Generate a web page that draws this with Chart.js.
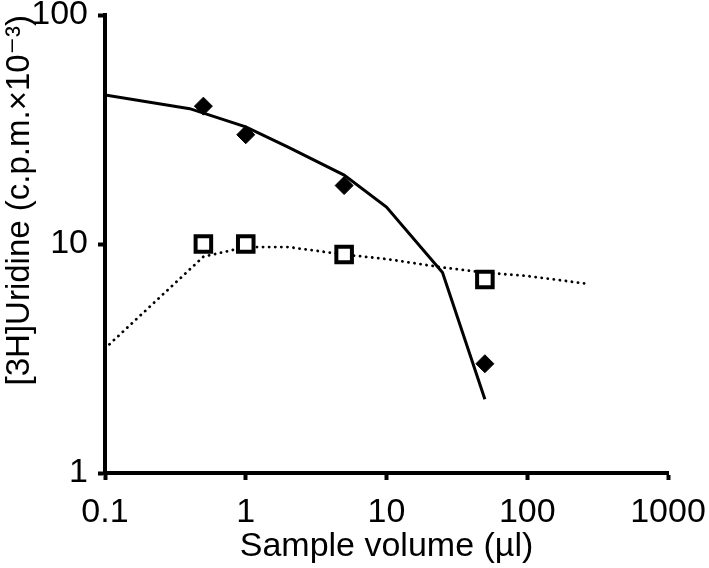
<!DOCTYPE html>
<html>
<head>
<meta charset="utf-8">
<script src="https://cdn.jsdelivr.net/npm/chart.js@4/dist/chart.umd.min.js"></script>
<style>
  html, body { margin: 0; padding: 0; background: #fff; }
  #wrap { width: 709px; height: 568px; }
</style>
</head>
<body>
<div id="wrap"><canvas id="uridineChart" width="709" height="568"></canvas></div>
<script>
// measured points
var sampleVol   = [0.5, 1, 5, 50];
var diamondVals = [40, 30, 18, 3];
var squareVals  = [10, 10, 9, 7];

// solid curve through the diamonds
var solidX = [0.1, 0.4, 1, 2, 5, 10, 25, 50];
var solidY = [44.7, 39, 32.5, 26.5, 20, 14.5, 7.5, 2.1];

// dotted curve through the squares
var dotX = [0.1, 0.5, 1, 2, 5, 10, 25, 50, 100, 270];
var dotY = [3.5, 8.8, 9.7, 9.7, 9.0, 8.6, 7.9, 7.5, 7.25, 6.7];

var xTicks = [0.1, 1, 10, 100, 1000];
var yTicks = [1, 10, 100];

function pairs(xs, ys){
  var out = [];
  for (var i = 0; i < xs.length; i++) out.push({x: xs[i], y: ys[i]});
  return out;
}

var font = "'Liberation Sans', Arial, 'DejaVu Sans', sans-serif";

var config = {
  type: 'scatter',
  data: {
    datasets: [{
      label: 'fit solid',
      data: pairs(solidX, solidY),
      showLine: true,
      borderColor: '#000',
      borderWidth: 3,
      pointRadius: 0,
      fill: false,
      order: 3
    }, {
      label: 'fit dotted',
      data: pairs(dotX, dotY),
      showLine: true,
      borderColor: '#000',
      borderWidth: 2.8,
      borderDash: [0.1, 6],
      borderCapStyle: 'round',
      pointRadius: 0,
      fill: false,
      order: 4
    }, {
      label: 'diamonds',
      data: pairs(sampleVol, diamondVals),
      pointStyle: 'rectRot',
      pointRadius: 9,
      pointBackgroundColor: '#000',
      pointBorderColor: '#000',
      pointBorderWidth: 1,
      order: 1
    }, {
      label: 'squares',
      data: pairs(sampleVol, squareVals),
      pointStyle: 'rect',
      pointRadius: 11,
      pointBackgroundColor: '#fff',
      pointBorderColor: '#000',
      pointBorderWidth: 4,
      order: 2
    }]
  },
  options: {
    responsive: false,
    animation: false,
    layout: { padding: { top: 15, right: 41, left: 0, bottom: 0 } },
    plugins: {
      legend: { display: false },
      tooltip: { enabled: false }
    },
    scales: {
      x: {
        type: 'logarithmic',
        min: 0.1,
        max: 1000,
        afterBuildTicks: function(axis){
          axis.ticks = xTicks.map(function(v){ return {value: v}; });
        },
        afterFit: function(axis){
          axis.height = 95;
          axis.paddingLeft = 0;
          axis.paddingRight = 0;
        },
        ticks: {
          color: '#000',
          font: { family: font, size: 34, lineHeight: 1.0 },
          padding: 16,
          maxRotation: 0,
          autoSkip: false,
          callback: function(v){ return String(v); }
        },
        grid: {
          drawOnChartArea: false,
          drawTicks: true,
          tickLength: 7,
          tickWidth: 4,
          tickColor: '#000'
        },
        border: { display: true, color: '#000', width: 4 },
        title: {
          display: true,
          text: 'Sample volume (µl)',
          color: '#000',
          font: { family: font, size: 34, lineHeight: 1.0 },
          padding: { top: 0, bottom: 4 }
        }
      },
      y: {
        type: 'logarithmic',
        min: 1,
        max: 100,
        afterBuildTicks: function(axis){
          axis.ticks = yTicks.map(function(v){ return {value: v}; });
        },
        afterFit: function(axis){
          axis.width = 105;
          axis.paddingTop = 0;
          axis.paddingBottom = 0;
        },
        ticks: {
          color: '#000',
          font: { family: font, size: 34, lineHeight: 0.9 },
          padding: 10,
          autoSkip: false,
          callback: function(v){ return String(v); }
        },
        grid: {
          drawOnChartArea: false,
          drawTicks: true,
          tickLength: 7,
          tickWidth: 4,
          tickColor: '#000'
        },
        border: { display: true, color: '#000', width: 4 },
        title: {
          display: true,
          text: '[3H]Uridine (c.p.m.×10⁻³)',
          color: '#000',
          align: 'end',
          font: { family: font, size: 33, lineHeight: 1.2 },
          padding: { top: 0, bottom: 0 }
        }
      }
    }
  }
};

var ctx = document.getElementById('uridineChart').getContext('2d');
var uridineChart = new Chart(ctx, config);
</script>
</body>
</html>
